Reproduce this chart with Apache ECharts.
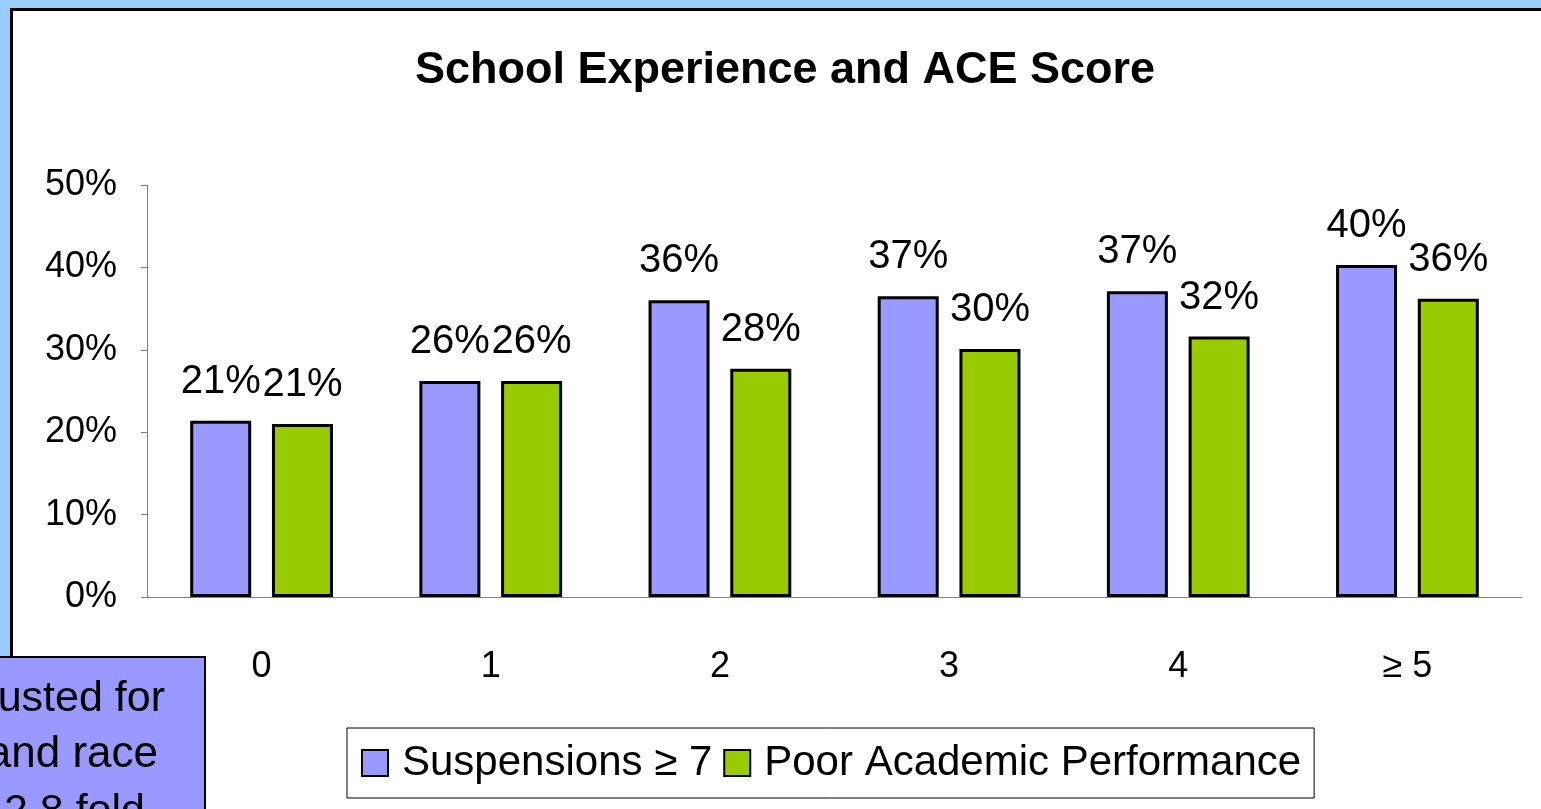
<!DOCTYPE html>
<html>
<head>
<meta charset="utf-8">
<script src="https://cdn.jsdelivr.net/npm/echarts@6/dist/echarts.min.js"></script>
<style>
  html, body { margin: 0; padding: 0; background: #99CCFF; overflow: hidden; }
  #panel { position: absolute; left: 10px; top: 8px; width: 1600px; height: 900px; background: #fff; border: 3px solid #000; }
  #main { position: absolute; left: 0; top: 0; width: 1541px; height: 809px; }
</style>
</head>
<body>
<div id="panel"></div>
<div id="main"></div>
<script>
// 分类和数值
var categories = ['0', '1', '2', '3', '4', '≥ 5'];
var suspensions = [21.4, 26.2, 36.0, 36.5, 37.1, 40.3];
var poorAcademic = [21.0, 26.2, 27.7, 30.1, 31.6, 36.2];
var yTicks = [0, 10, 20, 30, 40, 50];
var noteLines = ['Adjusted for', 'age, sex and race', 'a 2.8 fold'];

var font = 'Liberation Sans, Arial, sans-serif';

var myChart = echarts.init(document.getElementById('main'));

function barSeries(name, data, color) {
    return {
        name: name,
        type: 'bar',
        data: data,
        barWidth: 61,
        barGap: '34%',
        itemStyle: { color: color, borderColor: '#000', borderWidth: 3 },
        label: {
            show: true,
            position: 'top',
            distance: 19,
            color: '#000',
            fontFamily: font,
            fontSize: 40,
            formatter: function (p) { return Math.round(p.value) + '%'; }
        }
    };
}

myChart.setOption({
    animation: false,
    title: {
        text: 'School Experience and ACE Score',
        left: 780,
        top: 43,
        textAlign: 'center',
        textStyle: { fontFamily: font, fontSize: 45, fontWeight: 'bold', color: '#000' }
    },
    legend: {
        left: 347,
        top: 728,
        padding: [14, 13, 14, 14],
        icon: 'rect',
        itemWidth: 26,
        itemHeight: 26,
        itemGap: 11,
        borderColor: '#000',
        borderWidth: 1,
        backgroundColor: '#fff',
        itemStyle: { borderColor: '#000', borderWidth: 2 },
        textStyle: { fontFamily: font, fontSize: 42, color: '#000', padding: [0, 0, 0, 9] }
    },
    grid: { left: 147, top: 185, right: 19, bottom: 212, containLabel: false },
    xAxis: {
        type: 'category',
        data: categories,
        axisLine: { lineStyle: { color: '#808080', width: 1 } },
        axisTick: { length: 13, lineStyle: { color: '#808080' } },
        axisLabel: { margin: 52, fontFamily: font, fontSize: 36, color: '#000' }
    },
    yAxis: {
        type: 'value',
        min: yTicks[0],
        max: yTicks[yTicks.length - 1],
        interval: 10,
        splitLine: { show: false },
        axisLine: { show: true, lineStyle: { color: '#808080', width: 1 } },
        axisTick: { show: true, length: 6, lineStyle: { color: '#808080' } },
        axisLabel: { margin: 30, fontFamily: font, fontSize: 36, color: '#000', formatter: '{value}%' }
    },
    graphic: [{
        type: 'group',
        z: 100,
        children: [
            { type: 'rect', shape: { x: -20, y: 657, width: 225, height: 200 },
              style: { fill: '#9999FF', stroke: '#000', lineWidth: 2 } },
            { type: 'text', x: 165, y: 699, style: { text: noteLines[0], align: 'right', verticalAlign: 'middle', font: '43px ' + font, fill: '#000' } },
            { type: 'text', x: 158, y: 755, style: { text: noteLines[1], align: 'right', verticalAlign: 'middle', font: '44px ' + font, fill: '#000' } },
            { type: 'text', x: 145, y: 812, style: { text: noteLines[2], align: 'right', verticalAlign: 'middle', font: '43px ' + font, fill: '#000' } }
        ]
    }],
    series: [
        barSeries('Suspensions ≥ 7', suspensions, '#9999FF'),
        barSeries('Poor Academic Performance', poorAcademic, '#99CC00')
    ]
});
</script>
</body>
</html>
